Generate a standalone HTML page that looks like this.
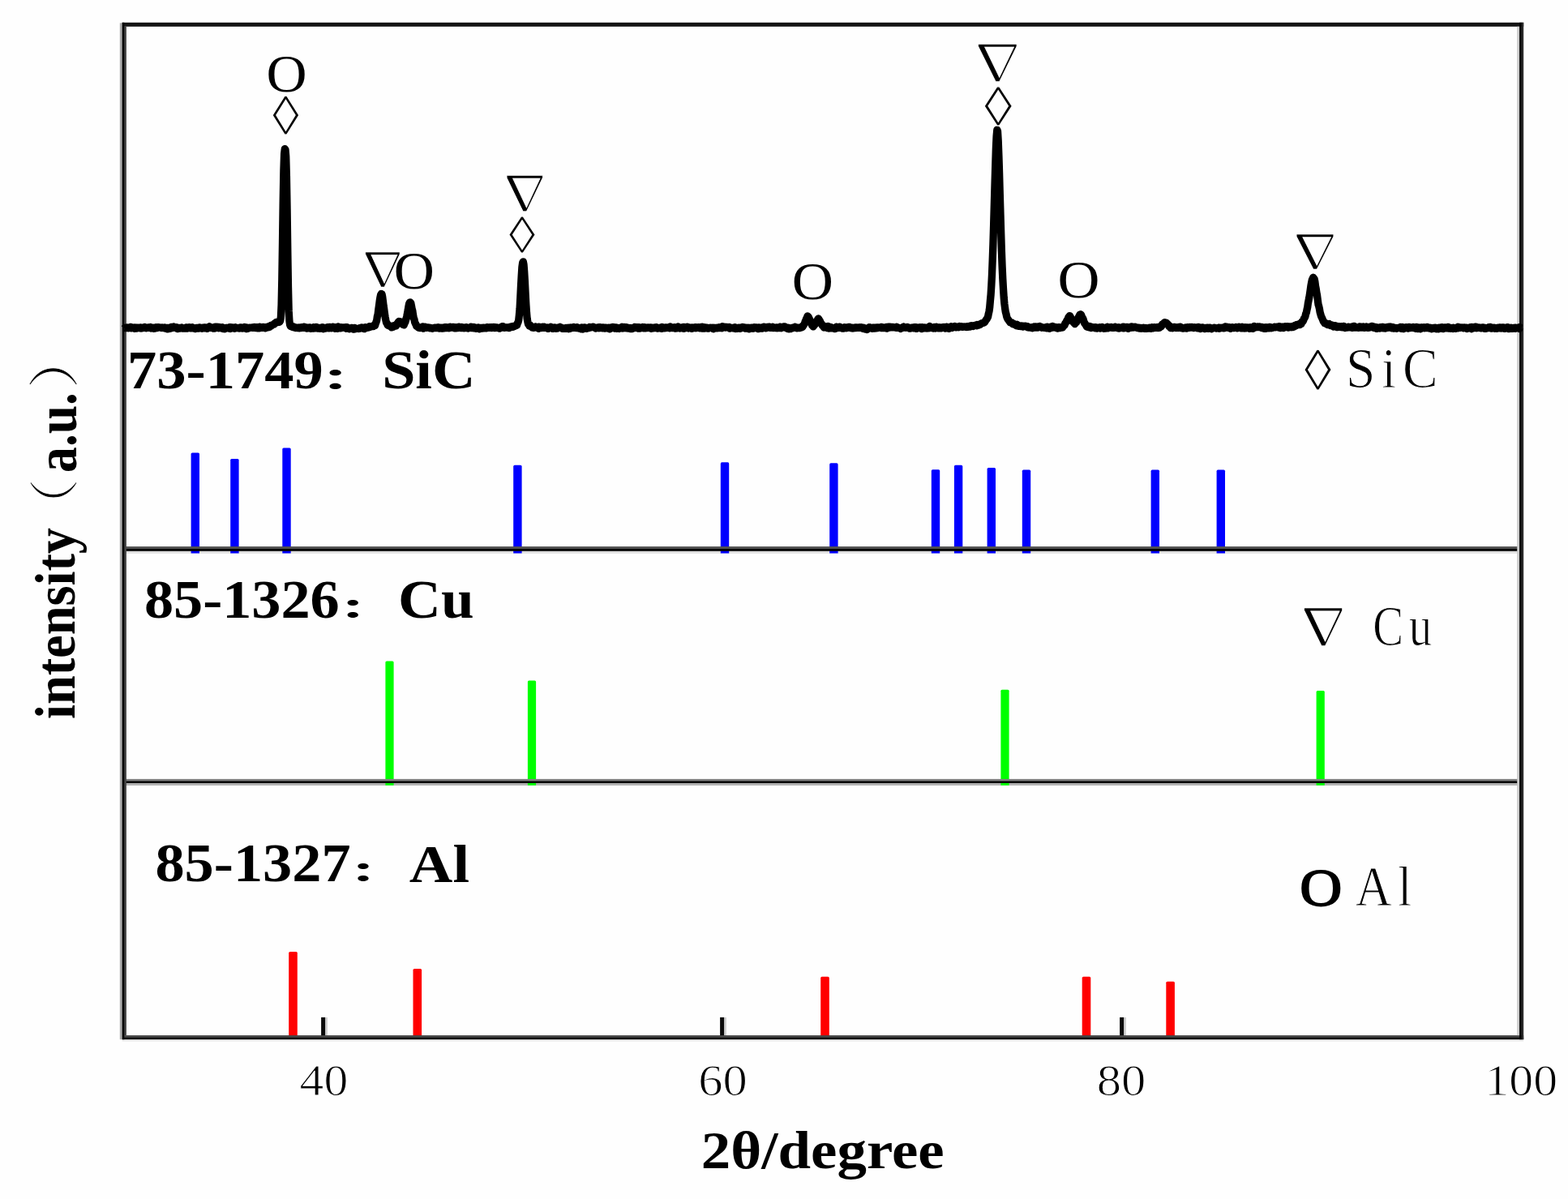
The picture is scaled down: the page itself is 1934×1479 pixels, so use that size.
<!DOCTYPE html>
<html lang="en">
<head>
<meta charset="utf-8">
<title>XRD pattern</title>
<style>
html,body{margin:0;padding:0;background:#fefefe;}
body{width:1934px;height:1479px;overflow:hidden;font-family:"Liberation Serif", "Noto Serif CJK SC", serif;}
svg{display:block;}
text{white-space:pre;}
</style>
</head>
<body>
<svg width="1934" height="1479" viewBox="0 0 1934 1479" font-family='"Liberation Serif", "Noto Serif CJK SC", serif' fill="#000">
<rect width="1934" height="1479" fill="#fefefe"/>
<g id="divider-edges"><rect x="153.3" y="679.3" width="1720.8" height="3.4" fill="#e0e0e0"/><rect x="153.3" y="965.5" width="1720.8" height="3.4" fill="#b0b0b0"/></g>
<!-- reference sticks -->
<g fill="#0000ff"><path d="M235.6 682.5 V560.1 Q235.6 558.5 237.2 558.5 H244.4 Q246 558.5 246 560.1 V682.5 Z"/><path d="M284.2 682.5 V567.6 Q284.2 566 285.8 566 H293 Q294.6 566 294.6 567.6 V682.5 Z"/><path d="M348.3 682.5 V554.1 Q348.3 552.5 349.9 552.5 H357.1 Q358.7 552.5 358.7 554.1 V682.5 Z"/><path d="M633.2 682.5 V575.4 Q633.2 573.8 634.8 573.8 H642 Q643.6 573.8 643.6 575.4 V682.5 Z"/><path d="M888.8 682.5 V571.9 Q888.8 570.3 890.4 570.3 H897.6 Q899.2 570.3 899.2 571.9 V682.5 Z"/><path d="M1023.2 682.5 V572.9 Q1023.2 571.3 1024.8 571.3 H1032 Q1033.6 571.3 1033.6 572.9 V682.5 Z"/><path d="M1148.8 682.5 V580.8 Q1148.8 579.2 1150.4 579.2 H1157.6 Q1159.2 579.2 1159.2 580.8 V682.5 Z"/><path d="M1176.9 682.5 V575.4 Q1176.9 573.8 1178.5 573.8 H1185.7 Q1187.3 573.8 1187.3 575.4 V682.5 Z"/><path d="M1217.6 682.5 V578.5 Q1217.6 576.9 1219.2 576.9 H1226.4 Q1228 576.9 1228 578.5 V682.5 Z"/><path d="M1260.8 682.5 V581.2 Q1260.8 579.6 1262.4 579.6 H1269.6 Q1271.2 579.6 1271.2 581.2 V682.5 Z"/><path d="M1419.6 682.5 V581.2 Q1419.6 579.6 1421.2 579.6 H1428.4 Q1430 579.6 1430 581.2 V682.5 Z"/><path d="M1500.6 682.5 V581.2 Q1500.6 579.6 1502.2 579.6 H1509.4 Q1511 579.6 1511 581.2 V682.5 Z"/></g>
<g fill="#00ff00"><path d="M475.4 968.8 V817.1 Q475.4 815.5 477 815.5 H484 Q485.6 815.5 485.6 817.1 V968.8 Z"/><path d="M650.9 968.8 V841 Q650.9 839.4 652.5 839.4 H659.5 Q661.1 839.4 661.1 841 V968.8 Z"/><path d="M1234.4 968.8 V852.3 Q1234.4 850.7 1236 850.7 H1243 Q1244.6 850.7 1244.6 852.3 V968.8 Z"/><path d="M1623.6 968.8 V853.6 Q1623.6 852 1625.2 852 H1632.2 Q1633.8 852 1633.8 853.6 V968.8 Z"/></g>
<g fill="#ff0000"><path d="M356.2 1279 V1175.6 Q356.2 1174 357.8 1174 H365.2 Q366.8 1174 366.8 1175.6 V1279 Z"/><path d="M509.5 1279 V1196.6 Q509.5 1195 511.1 1195 H518.5 Q520.1 1195 520.1 1196.6 V1279 Z"/><path d="M1012.2 1279 V1206.4 Q1012.2 1204.8 1013.8 1204.8 H1021.2 Q1022.8 1204.8 1022.8 1206.4 V1279 Z"/><path d="M1334.7 1279 V1206.4 Q1334.7 1204.8 1336.3 1204.8 H1343.7 Q1345.3 1204.8 1345.3 1206.4 V1279 Z"/><path d="M1438.3 1279 V1212.3 Q1438.3 1210.7 1439.9 1210.7 H1447.3 Q1448.9 1210.7 1448.9 1212.3 V1279 Z"/></g>
<!-- frame and dividers -->
<g id="frame"><rect x="153.3" y="674.1" width="1720.8" height="3.4" fill="#505050"/><rect x="153.3" y="960.9" width="1720.8" height="3.1" fill="#808080"/><rect x="153.3" y="677" width="1720.8" height="2.8" fill="#000"/><rect x="153.3" y="963.5" width="1720.8" height="2.5" fill="#000"/><rect x="400.6" y="1254.9" width="3.3" height="23.1" fill="#cfcfcf"/><rect x="396.1" y="1254.9" width="5" height="23.1" fill="#0a0a0a"/><rect x="892.6" y="1254.9" width="3.3" height="23.1" fill="#cfcfcf"/><rect x="888.1" y="1254.9" width="5" height="23.1" fill="#0a0a0a"/><rect x="1385.6" y="1254.9" width="3.3" height="23.1" fill="#cfcfcf"/><rect x="1381.1" y="1254.9" width="5" height="23.1" fill="#0a0a0a"/><rect x="150.7" y="1277.1" width="1728.5" height="3.3" fill="#444"/><rect x="150.7" y="1281.7" width="1728.5" height="3.1" fill="#eee"/><rect x="150.7" y="1279.9" width="1728.5" height="2.3" fill="#000"/><rect x="150.7" y="27.8" width="1728.5" height="5" fill="#141414"/><rect x="147.8" y="28.4" width="3.4" height="1253.8" fill="#aaa"/><rect x="152.8" y="32.8" width="3.1" height="1244.3" fill="#444"/><rect x="150.7" y="27.8" width="2.6" height="1254.4" fill="#000"/><rect x="1871.2" y="32.8" width="3.4" height="1244.3" fill="#ccc"/><rect x="1876.2" y="27.8" width="3" height="1254.4" fill="#2a2a2a"/><rect x="1874.1" y="27.8" width="2.6" height="1254.4" fill="#000"/></g>
<!-- XRD pattern -->
<path d="M153.2 405.26 L153.9 404.45 L154.6 404.71 L155.3 404.48 L156 404.29 L156.7 403.88 L157.4 404.15 L158.1 404.87 L158.8 404.69 L159.5 403.87 L160.2 403.68 L160.9 403.55 L161.6 403.36 L162.3 404.89 L163 404.41 L163.7 404.25 L164.4 404.08 L165.1 403.97 L165.8 405.21 L166.5 405.01 L167.2 404.19 L167.9 405.15 L168.6 404.13 L169.3 404.93 L170 404.07 L170.7 404.24 L171.4 404.61 L172.1 404.56 L172.8 404.79 L173.5 403.87 L174.2 405.01 L174.9 404.88 L175.6 404.25 L176.3 404.53 L177 403.88 L177.7 404.16 L178.4 403.57 L179.1 404.2 L179.8 404.26 L180.5 404.8 L181.2 404.5 L181.9 404.45 L182.6 403.92 L183.3 404.04 L184 404.11 L184.7 404.46 L185.4 403.52 L186.1 404.97 L186.8 403.93 L187.5 404.48 L188.2 404.73 L188.9 404.36 L189.6 405.27 L190.3 404.28 L191 404.98 L191.7 404.63 L192.4 403.69 L193.1 404.02 L193.8 404.46 L194.5 403.75 L195.2 404 L195.9 403.62 L196.6 403.94 L197.3 403.8 L198 404.03 L198.7 404.42 L199.4 404.54 L200.1 403.94 L200.8 404.1 L201.5 404.51 L202.2 404.08 L202.9 403.89 L203.6 405.12 L204.3 404.3 L205 405.28 L205.7 404.42 L206.4 405.82 L207.1 404.43 L207.8 405.24 L208.5 405.44 L209.2 404.16 L209.9 405.27 L210.6 404.04 L211.3 403.47 L212 404.52 L212.7 404.49 L213.4 404.09 L214.1 402.98 L214.8 404.22 L215.5 404.2 L216.2 404.25 L216.9 404.46 L217.6 403.79 L218.3 404.39 L219 405.57 L219.7 405.45 L220.4 404.49 L221.1 404.31 L221.8 404.78 L222.5 405.1 L223.2 404.93 L223.9 403.97 L224.6 404.56 L225.3 404.54 L226 405.15 L226.7 404.96 L227.4 404.59 L228.1 404.91 L228.8 404.12 L229.5 405.06 L230.2 404.14 L230.9 404.55 L231.6 404.88 L232.3 404.03 L233 404.19 L233.7 403.78 L234.4 404.76 L235.1 404.67 L235.8 404.57 L236.5 404.95 L237.2 403.72 L237.9 404.72 L238.6 404.78 L239.3 404.64 L240 405.18 L240.7 405.66 L241.4 404.63 L242.1 404.41 L242.8 404.56 L243.5 404.83 L244.2 405.01 L244.9 404.24 L245.6 405.05 L246.3 404.01 L247 404.81 L247.7 404.57 L248.4 404.55 L249.1 405.26 L249.8 404.11 L250.5 404.19 L251.2 404.58 L251.9 404.85 L252.6 403.85 L253.3 404.7 L254 404.3 L254.7 404.98 L255.4 405.3 L256.1 404.53 L256.8 404.32 L257.5 404.34 L258.2 402.71 L258.9 404.41 L259.6 404.25 L260.3 404.13 L261 403.96 L261.7 403.87 L262.4 404.23 L263.1 405 L263.8 404.46 L264.5 405.15 L265.2 403.17 L265.9 404.11 L266.6 404.44 L267.3 404.24 L268 403.37 L268.7 403.76 L269.4 404.72 L270.1 403.53 L270.8 403.74 L271.5 403.73 L272.2 404.08 L272.9 404.78 L273.6 404.88 L274.3 403.68 L275 405.5 L275.7 404.56 L276.4 404.64 L277.1 405.77 L277.8 404.92 L278.5 404.35 L279.2 404.64 L279.9 404.5 L280.6 404.3 L281.3 404.49 L282 404.97 L282.7 404.61 L283.4 403.65 L284.1 405.48 L284.8 403.55 L285.5 404.01 L286.2 404.02 L286.9 404.36 L287.6 403.88 L288.3 404.32 L289 405.27 L289.7 404.45 L290.4 403.94 L291.1 404.63 L291.8 404.16 L292.5 404.42 L293.2 404.73 L293.9 404.8 L294.6 404.47 L295.3 405.02 L296 404.5 L296.7 403.89 L297.4 404.9 L298.1 404.31 L298.8 405.05 L299.5 404.2 L300.2 404.88 L300.9 404.85 L301.6 403.49 L302.3 404.11 L303 404.34 L303.7 405.58 L304.4 403.99 L305.1 405.26 L305.8 405.23 L306.5 404.86 L307.2 404.82 L307.9 404.12 L308.6 404.24 L309.3 404.19 L310 404.17 L310.7 404.3 L311.4 403.86 L312.1 403.74 L312.8 403.89 L313.5 404.45 L314.2 403.64 L314.9 404.04 L315.6 404.56 L316.3 404.61 L317 404.73 L317.7 403.57 L318.4 404.6 L319.1 404.5 L319.8 404.75 L320.5 403.24 L321.2 403.81 L321.9 404.05 L322.6 403.96 L323.3 404.3 L324 404.25 L324.7 403.33 L325.4 404.23 L326.1 403.88 L326.8 403.72 L327.5 404.87 L328.2 403.78 L328.9 403.57 L329.6 403.6 L330.3 403.13 L331 403.72 L331.7 403.11 L332.4 403.29 L333.1 402.52 L333.8 401.7 L334.5 402.19 L335.2 401.04 L335.9 400.75 L336.6 400.49 L337.3 400.15 L338 400.21 L338.7 398.87 L339.4 398.88 L340.1 398.33 L340.8 397.43 L341.5 397.24 L342.2 397.4 L342.9 397.54 L343.6 397.39 L344.3 397.35 L345 396.89 L345.7 395.56 L346.4 391.18 L347.1 375.84 L347.8 344.58 L348.5 298.67 L349.2 248.41 L349.9 210.23 L350.6 189.45 L351.3 183.74 L352 184.71 L352.7 192.65 L353.4 216.84 L354.1 257.73 L354.8 309.48 L355.5 354.27 L356.2 383.91 L356.9 395.5 L357.6 400.74 L358.3 402.32 L359 401.49 L359.7 402.82 L360.4 403.24 L361.1 403.44 L361.8 402.91 L362.5 403.88 L363.2 404.06 L363.9 403.68 L364.6 404.55 L365.3 404.26 L366 404.35 L366.7 404.11 L367.4 404.61 L368.1 404.34 L368.8 404.74 L369.5 404.39 L370.2 403.85 L370.9 404.01 L371.6 404.52 L372.3 403.84 L373 404.22 L373.7 404.38 L374.4 404.14 L375.1 403.11 L375.8 404.32 L376.5 404.45 L377.2 404.56 L377.9 404.17 L378.6 405.1 L379.3 404.41 L380 404.21 L380.7 404.19 L381.4 404.72 L382.1 403.92 L382.8 403.93 L383.5 405.41 L384.2 405.07 L384.9 404.95 L385.6 405.08 L386.3 404.69 L387 403.62 L387.7 404.98 L388.4 404.94 L389.1 404.6 L389.8 403.41 L390.5 404.93 L391.2 404.99 L391.9 404.12 L392.6 404.55 L393.3 404.96 L394 404.55 L394.7 405.17 L395.4 404.74 L396.1 405.02 L396.8 404.67 L397.5 403.76 L398.2 403.84 L398.9 405.75 L399.6 404.23 L400.3 404.67 L401 404.61 L401.7 404.94 L402.4 404.43 L403.1 403.99 L403.8 404.4 L404.5 403.53 L405.2 404.38 L405.9 404.87 L406.6 403.33 L407.3 404.46 L408 404.69 L408.7 404.87 L409.4 403.74 L410.1 403.85 L410.8 403.26 L411.5 403.7 L412.2 404.48 L412.9 405.27 L413.6 403.75 L414.3 404.98 L415 404.53 L415.7 404.07 L416.4 405.31 L417.1 402.95 L417.8 404.05 L418.5 404.04 L419.2 404.83 L419.9 404.61 L420.6 404.78 L421.3 403.72 L422 404.07 L422.7 404.25 L423.4 403.95 L424.1 404.02 L424.8 403.82 L425.5 403.81 L426.2 403.55 L426.9 405.29 L427.6 404.31 L428.3 403.65 L429 404.91 L429.7 404.84 L430.4 404.97 L431.1 405.79 L431.8 404.83 L432.5 404.69 L433.2 404.37 L433.9 404.63 L434.6 404.4 L435.3 404.75 L436 406.21 L436.7 404.94 L437.4 404.38 L438.1 405.83 L438.8 405.39 L439.5 405.44 L440.2 405.38 L440.9 405.39 L441.6 405.25 L442.3 405.56 L443 405.23 L443.7 405.32 L444.4 404.32 L445.1 404.47 L445.8 404.07 L446.5 404.89 L447.2 404.83 L447.9 404.24 L448.6 404.73 L449.3 405.7 L450 404.99 L450.7 403.77 L451.4 404.14 L452.1 404.33 L452.8 403.84 L453.5 403.86 L454.2 404.03 L454.9 403.46 L455.6 402.65 L456.3 403.42 L457 402.96 L457.7 402.97 L458.4 402.65 L459.1 402.28 L459.8 402.3 L460.5 402.55 L461.2 401.88 L461.9 400.5 L462.6 401.55 L463.3 399.06 L464 397.25 L464.7 395.1 L465.4 390.18 L466.1 387.69 L466.8 381.73 L467.5 377.05 L468.2 371.19 L468.9 367.02 L469.6 363.78 L470.3 362.52 L471 362.72 L471.7 366 L472.4 371.28 L473.1 377.33 L473.8 381.8 L474.5 387.37 L475.2 391.56 L475.9 395.22 L476.6 398.11 L477.3 398.74 L478 400.82 L478.7 401.37 L479.4 401.76 L480.1 401.79 L480.8 402.03 L481.5 402.04 L482.2 402.12 L482.9 403.93 L483.6 403.61 L484.3 402.88 L485 403.25 L485.7 402.35 L486.4 401.33 L487.1 401.5 L487.8 402.04 L488.5 402.07 L489.2 400.54 L489.9 399.16 L490.6 398.61 L491.3 397.35 L492 396.52 L492.7 396.73 L493.4 396.66 L494.1 396.86 L494.8 397.45 L495.5 398.12 L496.2 399.4 L496.9 400.45 L497.6 399.89 L498.3 400.89 L499 398.26 L499.7 397.84 L500.4 395.2 L501.1 393.05 L501.8 389.93 L502.5 386.42 L503.2 382.74 L503.9 378.16 L504.6 374.72 L505.3 373.2 L506 372.94 L506.7 373.58 L507.4 376.91 L508.1 380.81 L508.8 383.29 L509.5 388.1 L510.2 392.09 L510.9 393.76 L511.6 397.34 L512.3 399.1 L513 399.97 L513.7 402.3 L514.4 402.56 L515.1 402.82 L515.8 403.76 L516.5 404.19 L517.2 404.47 L517.9 404.51 L518.6 404.54 L519.3 403.75 L520 404.05 L520.7 404.27 L521.4 402.81 L522.1 405.17 L522.8 404 L523.5 403.69 L524.2 403.38 L524.9 404.46 L525.6 404.36 L526.3 404.08 L527 404.18 L527.7 403.93 L528.4 404.04 L529.1 404.4 L529.8 404.18 L530.5 404.88 L531.2 404.53 L531.9 404.74 L532.6 404.9 L533.3 405.28 L534 404.87 L534.7 404.62 L535.4 404.42 L536.1 404.05 L536.8 404.22 L537.5 404.69 L538.2 404.48 L538.9 404.24 L539.6 403.84 L540.3 403.76 L541 404.7 L541.7 405.14 L542.4 404.91 L543.1 404.14 L543.8 404.75 L544.5 404.96 L545.2 404.35 L545.9 404.97 L546.6 404.62 L547.3 404.23 L548 403.88 L548.7 404.72 L549.4 404.41 L550.1 403.79 L550.8 403.64 L551.5 404.45 L552.2 404.25 L552.9 403.8 L553.6 404.77 L554.3 403.82 L555 403.39 L555.7 404.43 L556.4 403.85 L557.1 404.13 L557.8 404 L558.5 403.47 L559.2 403.44 L559.9 404.01 L560.6 404.87 L561.3 403.75 L562 404.95 L562.7 404.45 L563.4 403.83 L564.1 404.51 L564.8 404.61 L565.5 403.83 L566.2 403.2 L566.9 404.43 L567.6 403.73 L568.3 404.54 L569 403.52 L569.7 404.48 L570.4 404.24 L571.1 403.98 L571.8 404.55 L572.5 404.74 L573.2 404.36 L573.9 403.91 L574.6 404.53 L575.3 403.56 L576 404.62 L576.7 404.57 L577.4 405.08 L578.1 404.63 L578.8 404.32 L579.5 404.19 L580.2 403.94 L580.9 403.25 L581.6 404.62 L582.3 404.19 L583 403.87 L583.7 403.58 L584.4 404.92 L585.1 404.57 L585.8 403.8 L586.5 404.7 L587.2 405.27 L587.9 404.3 L588.6 404.42 L589.3 404.03 L590 403.96 L590.7 404.8 L591.4 405.83 L592.1 404.45 L592.8 404.4 L593.5 404.96 L594.2 404.5 L594.9 404.99 L595.6 405.05 L596.3 404.15 L597 404.09 L597.7 404.53 L598.4 404.9 L599.1 404.51 L599.8 404.93 L600.5 403.6 L601.2 404.47 L601.9 403.96 L602.6 404.29 L603.3 404.33 L604 403.77 L604.7 404.13 L605.4 403.66 L606.1 404.3 L606.8 403.62 L607.5 403.76 L608.2 404.12 L608.9 403.64 L609.6 404.49 L610.3 403.68 L611 404.52 L611.7 404.41 L612.4 403.89 L613.1 404.35 L613.8 404.11 L614.5 404.34 L615.2 404.29 L615.9 405.2 L616.6 403.99 L617.3 404.81 L618 404.12 L618.7 403.18 L619.4 402.66 L620.1 404.1 L620.8 402.77 L621.5 404.11 L622.2 404.33 L622.9 404.11 L623.6 403.89 L624.3 403.9 L625 404.19 L625.7 403.98 L626.4 403.9 L627.1 403.94 L627.8 404.63 L628.5 403.69 L629.2 404.09 L629.9 403.26 L630.6 403.31 L631.3 402.79 L632 403.17 L632.7 403.34 L633.4 402.89 L634.1 402.27 L634.8 402.52 L635.5 401.8 L636.2 401.84 L636.9 401.42 L637.6 401.08 L638.3 398.71 L639 397.43 L639.7 394.97 L640.4 388.5 L641.1 380.41 L641.8 366.97 L642.5 352.8 L643.2 340.34 L643.9 329.42 L644.6 324.3 L645.3 322.82 L646 326.17 L646.7 335.37 L647.4 347.25 L648.1 361.56 L648.8 374.71 L649.5 385.46 L650.2 393.21 L650.9 397.02 L651.6 399.81 L652.3 400.69 L653 402.01 L653.7 400.74 L654.4 402.43 L655.1 403.03 L655.8 402.79 L656.5 404.08 L657.2 403.83 L657.9 404.4 L658.6 404.27 L659.3 404.03 L660 403.57 L660.7 403.02 L661.4 403.4 L662.1 403.3 L662.8 403.79 L663.5 403.53 L664.2 405.35 L664.9 403.19 L665.6 404.56 L666.3 403.77 L667 403.88 L667.7 404.41 L668.4 403.99 L669.1 403.45 L669.8 404.28 L670.5 404.07 L671.2 403.22 L671.9 404.4 L672.6 403.84 L673.3 403.98 L674 404.57 L674.7 404.48 L675.4 404.16 L676.1 405.4 L676.8 404.55 L677.5 404.06 L678.2 404.53 L678.9 404.37 L679.6 403.35 L680.3 403.71 L681 403.77 L681.7 405.42 L682.4 404.3 L683.1 404.19 L683.8 404.02 L684.5 404.81 L685.2 404.32 L685.9 405.08 L686.6 404.6 L687.3 405 L688 404.15 L688.7 404.36 L689.4 403.92 L690.1 404.06 L690.8 403.39 L691.5 404.06 L692.2 404.01 L692.9 404.22 L693.6 405.25 L694.3 404.9 L695 405.42 L695.7 405.26 L696.4 405.27 L697.1 405.26 L697.8 404.5 L698.5 405.14 L699.2 404.56 L699.9 404.46 L700.6 405.27 L701.3 405.73 L702 404.21 L702.7 405.42 L703.4 404.94 L704.1 404.06 L704.8 404.53 L705.5 404.52 L706.2 404.44 L706.9 403.98 L707.6 403.49 L708.3 404.06 L709 404.44 L709.7 404.36 L710.4 404.31 L711.1 404.61 L711.8 403.71 L712.5 404.3 L713.2 404.62 L713.9 405.04 L714.6 404.75 L715.3 405.03 L716 404.92 L716.7 405.89 L717.4 403.82 L718.1 404.84 L718.8 406.03 L719.5 404.99 L720.2 403.94 L720.9 404.75 L721.6 403.94 L722.3 404.29 L723 404.69 L723.7 405.32 L724.4 404.57 L725.1 404.55 L725.8 404.68 L726.5 404.19 L727.2 403.56 L727.9 403.84 L728.6 404 L729.3 403.67 L730 403.52 L730.7 403.68 L731.4 403.16 L732.1 403.44 L732.8 403.97 L733.5 403.97 L734.2 404.29 L734.9 405.03 L735.6 404.55 L736.3 404.47 L737 403.97 L737.7 404 L738.4 404.61 L739.1 403.91 L739.8 404.47 L740.5 403.76 L741.2 404.24 L741.9 404.1 L742.6 404.61 L743.3 403.92 L744 403.97 L744.7 404.27 L745.4 404.15 L746.1 405.03 L746.8 404.19 L747.5 404.09 L748.2 404.34 L748.9 404.8 L749.6 404.77 L750.3 405.05 L751 404.04 L751.7 405.88 L752.4 405.6 L753.1 404.65 L753.8 404.05 L754.5 404.62 L755.2 404.71 L755.9 403.43 L756.6 404.48 L757.3 403.71 L758 404.61 L758.7 405.1 L759.4 405.01 L760.1 403.83 L760.8 405.24 L761.5 405.05 L762.2 404.46 L762.9 404.89 L763.6 405.3 L764.3 404.35 L765 404.47 L765.7 404.14 L766.4 404.91 L767.1 403.28 L767.8 404.97 L768.5 403.85 L769.2 404.75 L769.9 403.47 L770.6 403.84 L771.3 404.06 L772 404.76 L772.7 403.64 L773.4 404.72 L774.1 404.2 L774.8 405.19 L775.5 404.5 L776.2 404.88 L776.9 404.6 L777.6 405.6 L778.3 404.61 L779 404.72 L779.7 405.65 L780.4 404.66 L781.1 404.93 L781.8 404.21 L782.5 404.55 L783.2 403.3 L783.9 404.46 L784.6 404.06 L785.3 403.65 L786 403.71 L786.7 404.88 L787.4 404.54 L788.1 403.64 L788.8 405.19 L789.5 403.99 L790.2 404.12 L790.9 404.42 L791.6 403.78 L792.3 403.54 L793 403.92 L793.7 404.89 L794.4 404.82 L795.1 403.61 L795.8 404.93 L796.5 404.4 L797.2 404.67 L797.9 404.43 L798.6 404.53 L799.3 403.84 L800 403.96 L800.7 404.1 L801.4 404.25 L802.1 404.69 L802.8 403.9 L803.5 405.35 L804.2 404.33 L804.9 404.27 L805.6 404.88 L806.3 404.76 L807 404.41 L807.7 403.98 L808.4 403.93 L809.1 403.54 L809.8 404.84 L810.5 404.76 L811.2 405.11 L811.9 404.43 L812.6 404.36 L813.3 404.62 L814 404.76 L814.7 404.21 L815.4 404.56 L816.1 405.42 L816.8 403.55 L817.5 403.7 L818.2 403.9 L818.9 404.71 L819.6 404.88 L820.3 404.11 L821 404.63 L821.7 404.27 L822.4 404.38 L823.1 403.9 L823.8 404.07 L824.5 404.02 L825.2 404.49 L825.9 404.96 L826.6 402.98 L827.3 404.11 L828 403.91 L828.7 404.49 L829.4 404.6 L830.1 404.59 L830.8 404.67 L831.5 403.89 L832.2 403.55 L832.9 405.13 L833.6 404.82 L834.3 403.74 L835 404.77 L835.7 404.44 L836.4 402.98 L837.1 404.68 L837.8 403.87 L838.5 405.02 L839.2 404.23 L839.9 404.26 L840.6 403.91 L841.3 404.47 L842 404.95 L842.7 404.03 L843.4 403.32 L844.1 405.13 L844.8 404.9 L845.5 404.28 L846.2 403.75 L846.9 403.47 L847.6 403.29 L848.3 404.38 L849 404.79 L849.7 403.73 L850.4 404.26 L851.1 404.04 L851.8 404.07 L852.5 404.45 L853.2 405.31 L853.9 403.99 L854.6 404.63 L855.3 404.77 L856 404.17 L856.7 404.22 L857.4 403.64 L858.1 404.74 L858.8 404.01 L859.5 404 L860.2 404.29 L860.9 403.79 L861.6 403.68 L862.3 404.01 L863 404.84 L863.7 403.95 L864.4 404.28 L865.1 403.39 L865.8 403.27 L866.5 405.2 L867.2 404.22 L867.9 403.75 L868.6 404.53 L869.3 404.97 L870 403.91 L870.7 404.34 L871.4 404.82 L872.1 404.23 L872.8 405.11 L873.5 405.18 L874.2 404.85 L874.9 404.28 L875.6 404.36 L876.3 404.09 L877 404.33 L877.7 404.45 L878.4 404.13 L879.1 404.8 L879.8 405.73 L880.5 404.27 L881.2 404.65 L881.9 404.86 L882.6 404.8 L883.3 404.37 L884 404.25 L884.7 404.87 L885.4 404.66 L886.1 404.65 L886.8 403.95 L887.5 404.54 L888.2 404.49 L888.9 403.86 L889.6 404.14 L890.3 404.74 L891 402.67 L891.7 403.86 L892.4 403.05 L893.1 403.05 L893.8 403.67 L894.5 404.12 L895.2 403.96 L895.9 403.43 L896.6 403.31 L897.3 403.73 L898 404.03 L898.7 403.71 L899.4 403.5 L900.1 405.18 L900.8 404.02 L901.5 404.48 L902.2 404.41 L902.9 404.44 L903.6 404.73 L904.3 404.51 L905 404.92 L905.7 404.04 L906.4 403.84 L907.1 405.47 L907.8 404.53 L908.5 405.01 L909.2 405.37 L909.9 405.14 L910.6 404.89 L911.3 404.15 L912 404.15 L912.7 405.37 L913.4 405.13 L914.1 404.91 L914.8 403.73 L915.5 403.45 L916.2 403.93 L916.9 403.77 L917.6 404.34 L918.3 403.78 L919 405.12 L919.7 404.14 L920.4 404.26 L921.1 405 L921.8 404.88 L922.5 404.44 L923.2 405.35 L923.9 405.91 L924.6 404.38 L925.3 404.86 L926 404.49 L926.7 404.05 L927.4 405.22 L928.1 405.17 L928.8 405.24 L929.5 404.89 L930.2 403.61 L930.9 404.48 L931.6 404.1 L932.3 403.87 L933 403.95 L933.7 404.87 L934.4 404.44 L935.1 405.63 L935.8 404.98 L936.5 403.81 L937.2 405.11 L937.9 405.18 L938.6 404.56 L939.3 403.84 L940 405.17 L940.7 403.57 L941.4 404.14 L942.1 403.27 L942.8 403.64 L943.5 403.4 L944.2 404.76 L944.9 404.78 L945.6 403.96 L946.3 403.45 L947 403.99 L947.7 404.08 L948.4 403.11 L949.1 403.29 L949.8 403.85 L950.5 404.33 L951.2 404.11 L951.9 404.4 L952.6 403.71 L953.3 403.23 L954 404.65 L954.7 404.01 L955.4 404.35 L956.1 404.15 L956.8 404.51 L957.5 403.81 L958.2 404.77 L958.9 404.03 L959.6 404.32 L960.3 404.39 L961 404.62 L961.7 404.27 L962.4 403.16 L963.1 403.66 L963.8 404.73 L964.5 403.86 L965.2 403.72 L965.9 403.55 L966.6 402.98 L967.3 402.99 L968 403.02 L968.7 404.02 L969.4 403.85 L970.1 404.81 L970.8 404.4 L971.5 405.29 L972.2 404.81 L972.9 404.25 L973.6 405.85 L974.3 405.22 L975 405.63 L975.7 405.15 L976.4 404.85 L977.1 404.95 L977.8 404.11 L978.5 403.88 L979.2 403.87 L979.9 403.92 L980.6 403.35 L981.3 403.86 L982 404.05 L982.7 404.91 L983.4 404.92 L984.1 404.06 L984.8 404.62 L985.5 404.19 L986.2 404.53 L986.9 404.28 L987.6 404.03 L988.3 404.16 L989 403.14 L989.7 403.56 L990.4 402.48 L991.1 401.09 L991.8 400.14 L992.5 398.92 L993.2 396.45 L993.9 395 L994.6 393.2 L995.3 392.15 L996 389.92 L996.7 390.28 L997.4 391.3 L998.1 393.13 L998.8 394.28 L999.5 396.43 L1000.2 397.16 L1000.9 399.18 L1001.6 401.51 L1002.3 401.32 L1003 402.91 L1003.7 401.46 L1004.4 401.22 L1005.1 399.77 L1005.8 399.7 L1006.5 398.13 L1007.2 397.55 L1007.9 395.29 L1008.6 394.08 L1009.3 393 L1010 393.73 L1010.7 394.97 L1011.4 396.03 L1012.1 397.69 L1012.8 398.96 L1013.5 399.86 L1014.2 401.38 L1014.9 402.06 L1015.6 401.99 L1016.3 403.97 L1017 403.59 L1017.7 403.06 L1018.4 403.85 L1019.1 403.84 L1019.8 404.3 L1020.5 404.59 L1021.2 402.43 L1021.9 404.37 L1022.6 405.01 L1023.3 403.94 L1024 403.6 L1024.7 404.73 L1025.4 404.81 L1026.1 404.89 L1026.8 404.14 L1027.5 404.45 L1028.2 404.75 L1028.9 404.99 L1029.6 405.68 L1030.3 404.7 L1031 404.15 L1031.7 403.17 L1032.4 404.73 L1033.1 404.02 L1033.8 403.99 L1034.5 403.51 L1035.2 404.37 L1035.9 403.19 L1036.6 404.24 L1037.3 404.34 L1038 404.49 L1038.7 405.03 L1039.4 404.38 L1040.1 404.52 L1040.8 404.86 L1041.5 403.6 L1042.2 404.19 L1042.9 404.36 L1043.6 404.72 L1044.3 403.79 L1045 404.49 L1045.7 404.32 L1046.4 403.43 L1047.1 403.44 L1047.8 403.5 L1048.5 404.39 L1049.2 404.5 L1049.9 404.8 L1050.6 404.8 L1051.3 404.12 L1052 404.99 L1052.7 404.87 L1053.4 404.66 L1054.1 404.65 L1054.8 403.83 L1055.5 404.66 L1056.2 403.94 L1056.9 403.79 L1057.6 404.17 L1058.3 404.4 L1059 404.25 L1059.7 404.05 L1060.4 403.74 L1061.1 404.37 L1061.8 403.97 L1062.5 403.68 L1063.2 404.49 L1063.9 405.29 L1064.6 404.51 L1065.3 404.31 L1066 405.67 L1066.7 405.92 L1067.4 405.01 L1068.1 405.06 L1068.8 405.21 L1069.5 406.51 L1070.2 405.02 L1070.9 405.32 L1071.6 404.94 L1072.3 403.72 L1073 404.03 L1073.7 403.96 L1074.4 404.73 L1075.1 404.48 L1075.8 405.24 L1076.5 404.12 L1077.2 404.32 L1077.9 404.17 L1078.6 404.11 L1079.3 405.17 L1080 404.2 L1080.7 404.87 L1081.4 404.85 L1082.1 403.93 L1082.8 404.52 L1083.5 404.01 L1084.2 404.22 L1084.9 404.12 L1085.6 403.94 L1086.3 403.59 L1087 404.56 L1087.7 403.64 L1088.4 404.05 L1089.1 404.48 L1089.8 403.99 L1090.5 404.23 L1091.2 404.51 L1091.9 404.41 L1092.6 404.82 L1093.3 403.34 L1094 405.15 L1094.7 404.27 L1095.4 403.4 L1096.1 403.91 L1096.8 403.47 L1097.5 404.04 L1098.2 403.22 L1098.9 403.34 L1099.6 403.89 L1100.3 403.81 L1101 403.33 L1101.7 403.63 L1102.4 403.69 L1103.1 403.79 L1103.8 403.86 L1104.5 403.83 L1105.2 404.4 L1105.9 403.22 L1106.6 403.88 L1107.3 404.38 L1108 404.3 L1108.7 404.33 L1109.4 404.47 L1110.1 404.85 L1110.8 405.34 L1111.5 404.53 L1112.2 404.37 L1112.9 404.5 L1113.6 403.97 L1114.3 402.99 L1115 403.99 L1115.7 403.7 L1116.4 403.63 L1117.1 404.24 L1117.8 404.07 L1118.5 404.03 L1119.2 403.4 L1119.9 403.78 L1120.6 404.71 L1121.3 404.78 L1122 405.19 L1122.7 405.1 L1123.4 404.62 L1124.1 404.15 L1124.8 404.14 L1125.5 404.57 L1126.2 403.96 L1126.9 404.82 L1127.6 403.75 L1128.3 403.57 L1129 404.39 L1129.7 403.69 L1130.4 405.44 L1131.1 404.2 L1131.8 404.71 L1132.5 404.64 L1133.2 404.38 L1133.9 403.91 L1134.6 403.76 L1135.3 405.06 L1136 405.06 L1136.7 405.6 L1137.4 403.71 L1138.1 404.63 L1138.8 404.33 L1139.5 404.81 L1140.2 404.13 L1140.9 404.75 L1141.6 404.75 L1142.3 404.57 L1143 404.94 L1143.7 403.99 L1144.4 404.77 L1145.1 403.6 L1145.8 404.72 L1146.5 402.53 L1147.2 403.9 L1147.9 403.5 L1148.6 403.99 L1149.3 404.53 L1150 404.42 L1150.7 404.19 L1151.4 405.03 L1152.1 403.52 L1152.8 403.91 L1153.5 405.05 L1154.2 404.45 L1154.9 403.2 L1155.6 404.37 L1156.3 403.56 L1157 404.84 L1157.7 404.68 L1158.4 403.89 L1159.1 404.86 L1159.8 403.9 L1160.5 404.86 L1161.2 404.79 L1161.9 404.49 L1162.6 403.89 L1163.3 404.46 L1164 403.48 L1164.7 404.29 L1165.4 403.57 L1166.1 405.03 L1166.8 403.91 L1167.5 403.09 L1168.2 404.54 L1168.9 404.37 L1169.6 403.95 L1170.3 405.27 L1171 404.61 L1171.7 404.3 L1172.4 403.94 L1173.1 402.77 L1173.8 404.42 L1174.5 404.49 L1175.2 403.6 L1175.9 403 L1176.6 403.44 L1177.3 402.49 L1178 403.2 L1178.7 403.5 L1179.4 403.86 L1180.1 403.19 L1180.8 403.2 L1181.5 403.53 L1182.2 403.82 L1182.9 402.98 L1183.6 402.53 L1184.3 402.79 L1185 402.56 L1185.7 402.74 L1186.4 403.12 L1187.1 403.38 L1187.8 403.21 L1188.5 403.09 L1189.2 402.8 L1189.9 403.15 L1190.6 403.29 L1191.3 403.18 L1192 403.48 L1192.7 402.58 L1193.4 402.58 L1194.1 403.46 L1194.8 402.62 L1195.5 402.68 L1196.2 402.21 L1196.9 402.77 L1197.6 402.05 L1198.3 401.73 L1199 402.17 L1199.7 401.89 L1200.4 402.37 L1201.1 401.7 L1201.8 401.88 L1202.5 401.55 L1203.2 401.63 L1203.9 400.98 L1204.6 401.77 L1205.3 400.44 L1206 400.74 L1206.7 400.4 L1207.4 400.9 L1208.1 400.41 L1208.8 400.39 L1209.5 399.67 L1210.2 399.17 L1210.9 398.74 L1211.6 398.76 L1212.3 398.29 L1213 398.26 L1213.7 397.84 L1214.4 397.65 L1215.1 396.45 L1215.8 395.27 L1216.5 394.17 L1217.2 393.46 L1217.9 392 L1218.6 390.69 L1219.3 386.96 L1220 384 L1220.7 379.1 L1221.4 370.99 L1222.1 363.52 L1222.8 352.37 L1223.5 338.5 L1224.2 320.89 L1224.9 301.42 L1225.6 278.05 L1226.3 253.66 L1227 228.28 L1227.7 204.77 L1228.4 182.66 L1229.1 167.83 L1229.8 160.08 L1230.5 161.73 L1231.2 173.27 L1231.9 191.71 L1232.6 213.92 L1233.3 239.63 L1234 264.19 L1234.7 287.96 L1235.4 310.08 L1236.1 328.56 L1236.8 343.89 L1237.5 356.22 L1238.2 367.01 L1238.9 374.77 L1239.6 380.23 L1240.3 384.87 L1241 387.23 L1241.7 390.58 L1242.4 392.46 L1243.1 393.8 L1243.8 394.49 L1244.5 395.74 L1245.2 396.54 L1245.9 397.61 L1246.6 397.71 L1247.3 398.1 L1248 398.02 L1248.7 399.21 L1249.4 399.74 L1250.1 399.23 L1250.8 400.12 L1251.5 400.26 L1252.2 400.41 L1252.9 400.07 L1253.6 401.81 L1254.3 400.21 L1255 401.48 L1255.7 401.31 L1256.4 402.31 L1257.1 401.69 L1257.8 402.07 L1258.5 402.5 L1259.2 402.5 L1259.9 402.06 L1260.6 402.75 L1261.3 402.6 L1262 402.93 L1262.7 402.18 L1263.4 402.41 L1264.1 402.3 L1264.8 402.2 L1265.5 402.79 L1266.2 402.97 L1266.9 403.58 L1267.6 402.86 L1268.3 403.43 L1269 404.02 L1269.7 403.6 L1270.4 403.92 L1271.1 404.12 L1271.8 403.85 L1272.5 403.76 L1273.2 404.79 L1273.9 404.19 L1274.6 403.94 L1275.3 403.23 L1276 403.8 L1276.7 404.19 L1277.4 402.95 L1278.1 403.03 L1278.8 404.02 L1279.5 404.1 L1280.2 404.02 L1280.9 402.86 L1281.6 403.39 L1282.3 402.72 L1283 403.36 L1283.7 402.96 L1284.4 403.39 L1285.1 404.22 L1285.8 403.94 L1286.5 403.83 L1287.2 404.04 L1287.9 404.23 L1288.6 403.93 L1289.3 404.33 L1290 404.5 L1290.7 404.96 L1291.4 403.14 L1292.1 403.65 L1292.8 403.62 L1293.5 404.62 L1294.2 405.33 L1294.9 404.19 L1295.6 404.12 L1296.3 404.63 L1297 402.8 L1297.7 403.94 L1298.4 402.46 L1299.1 404.09 L1299.8 403.72 L1300.5 403.72 L1301.2 404.05 L1301.9 403.54 L1302.6 404.39 L1303.3 403.92 L1304 404.16 L1304.7 405.21 L1305.4 403.68 L1306.1 404.4 L1306.8 403.59 L1307.5 404.55 L1308.2 404.23 L1308.9 403.66 L1309.6 403.94 L1310.3 404.06 L1311 403.58 L1311.7 402.34 L1312.4 401.6 L1313.1 401.29 L1313.8 398.9 L1314.5 398.02 L1315.2 397.02 L1315.9 395.46 L1316.6 394.45 L1317.3 392.95 L1318 391.14 L1318.7 390.51 L1319.4 389.55 L1320.1 390.63 L1320.8 391.87 L1321.5 393.04 L1322.2 394.68 L1322.9 396.39 L1323.6 396.99 L1324.3 398.16 L1325 398.16 L1325.7 399.7 L1326.4 398.31 L1327.1 397.28 L1327.8 397.36 L1328.5 395.28 L1329.2 394.12 L1329.9 391.68 L1330.6 391.31 L1331.3 389.24 L1332 388.02 L1332.7 387.77 L1333.4 388.12 L1334.1 389.75 L1334.8 391.88 L1335.5 392.48 L1336.2 394.06 L1336.9 396.77 L1337.6 398.74 L1338.3 398.99 L1339 400.64 L1339.7 401.49 L1340.4 402.94 L1341.1 403.36 L1341.8 403.09 L1342.5 403.03 L1343.2 403.9 L1343.9 402.49 L1344.6 403.76 L1345.3 403.41 L1346 404.52 L1346.7 404.12 L1347.4 403.44 L1348.1 403.78 L1348.8 403.93 L1349.5 403.85 L1350.2 404.34 L1350.9 404.81 L1351.6 403.61 L1352.3 404.28 L1353 405.12 L1353.7 404.8 L1354.4 404.06 L1355.1 404.08 L1355.8 404.07 L1356.5 403.69 L1357.2 405.01 L1357.9 404.42 L1358.6 403.99 L1359.3 403.59 L1360 404.12 L1360.7 404.08 L1361.4 405.23 L1362.1 404.21 L1362.8 404.57 L1363.5 405 L1364.2 404.77 L1364.9 404.26 L1365.6 403.23 L1366.3 404.91 L1367 404.45 L1367.7 403.87 L1368.4 404.07 L1369.1 403.64 L1369.8 403.71 L1370.5 403.4 L1371.2 404.4 L1371.9 404.41 L1372.6 404.19 L1373.3 404.42 L1374 404.24 L1374.7 403.95 L1375.4 403.38 L1376.1 404.03 L1376.8 404.33 L1377.5 404.19 L1378.2 404.61 L1378.9 403.9 L1379.6 403.78 L1380.3 404.99 L1381 404.18 L1381.7 404.57 L1382.4 404.22 L1383.1 404.2 L1383.8 403.94 L1384.5 403.75 L1385.2 403.14 L1385.9 404.96 L1386.6 404.21 L1387.3 403.33 L1388 404.02 L1388.7 403.99 L1389.4 404.24 L1390.1 403.37 L1390.8 404.91 L1391.5 405.39 L1392.2 404.34 L1392.9 404.58 L1393.6 404.39 L1394.3 403.35 L1395 404.43 L1395.7 402.83 L1396.4 403.25 L1397.1 403.3 L1397.8 404.15 L1398.5 403.57 L1399.2 403.45 L1399.9 403.11 L1400.6 403.65 L1401.3 403.72 L1402 404.14 L1402.7 404.56 L1403.4 404.37 L1404.1 404.14 L1404.8 404.16 L1405.5 405.08 L1406.2 404.41 L1406.9 404.32 L1407.6 405.24 L1408.3 405.15 L1409 404.68 L1409.7 404.43 L1410.4 404.29 L1411.1 405.22 L1411.8 404.61 L1412.5 405.35 L1413.2 404.57 L1413.9 405.1 L1414.6 405.26 L1415.3 405.07 L1416 405.08 L1416.7 405.09 L1417.4 404.31 L1418.1 404.19 L1418.8 404.48 L1419.5 405.26 L1420.2 404.21 L1420.9 403.73 L1421.6 403.77 L1422.3 403.98 L1423 404.53 L1423.7 403.73 L1424.4 404.36 L1425.1 404.24 L1425.8 404.02 L1426.5 403.79 L1427.2 404.28 L1427.9 403.99 L1428.6 404.49 L1429.3 403.2 L1430 404.3 L1430.7 403.73 L1431.4 403.16 L1432.1 402.99 L1432.8 401.92 L1433.5 400.11 L1434.2 400.21 L1434.9 399.74 L1435.6 398.55 L1436.3 397.85 L1437 398.36 L1437.7 398.38 L1438.4 398.13 L1439.1 398.73 L1439.8 399.29 L1440.5 400.07 L1441.2 401.15 L1441.9 402.51 L1442.6 401.91 L1443.3 403.22 L1444 404.64 L1444.7 404.25 L1445.4 404.31 L1446.1 404.7 L1446.8 403.8 L1447.5 403.65 L1448.2 403.33 L1448.9 403.37 L1449.6 404.22 L1450.3 404.5 L1451 403.89 L1451.7 403.78 L1452.4 404.38 L1453.1 404.54 L1453.8 404.41 L1454.5 403.36 L1455.2 404.08 L1455.9 403.18 L1456.6 404.56 L1457.3 404.01 L1458 404.11 L1458.7 405.18 L1459.4 405.12 L1460.1 404.68 L1460.8 404.48 L1461.5 404.38 L1462.2 403.97 L1462.9 404.14 L1463.6 405.01 L1464.3 403.56 L1465 403.63 L1465.7 404.04 L1466.4 404.36 L1467.1 404.32 L1467.8 403.48 L1468.5 403.9 L1469.2 403.88 L1469.9 403.42 L1470.6 404.08 L1471.3 403.81 L1472 404.51 L1472.7 404.27 L1473.4 403.72 L1474.1 404.13 L1474.8 403.95 L1475.5 403.8 L1476.2 403.94 L1476.9 404.79 L1477.6 404.15 L1478.3 403.57 L1479 404.08 L1479.7 404.89 L1480.4 405.65 L1481.1 404.13 L1481.8 404.42 L1482.5 404.4 L1483.2 403.88 L1483.9 404.8 L1484.6 404.61 L1485.3 404.7 L1486 405.59 L1486.7 404.42 L1487.4 404.93 L1488.1 404.93 L1488.8 404.17 L1489.5 404.14 L1490.2 405.27 L1490.9 404.96 L1491.6 404.67 L1492.3 404.12 L1493 405.11 L1493.7 404.9 L1494.4 405.68 L1495.1 405.21 L1495.8 404.77 L1496.5 404.49 L1497.2 404.34 L1497.9 404.06 L1498.6 404.55 L1499.3 404.58 L1500 404.86 L1500.7 405.13 L1501.4 404.79 L1502.1 404.42 L1502.8 405.01 L1503.5 405.29 L1504.2 404.04 L1504.9 404.57 L1505.6 404.6 L1506.3 404.49 L1507 404.37 L1507.7 404.07 L1508.4 404.06 L1509.1 404.93 L1509.8 404.96 L1510.5 403.4 L1511.2 402.88 L1511.9 404.35 L1512.6 403.77 L1513.3 403.82 L1514 403.28 L1514.7 404.23 L1515.4 404.03 L1516.1 403.78 L1516.8 404.48 L1517.5 405.26 L1518.2 404.83 L1518.9 404.71 L1519.6 403.92 L1520.3 404.42 L1521 404.04 L1521.7 404.56 L1522.4 404.28 L1523.1 403.98 L1523.8 404.24 L1524.5 403.62 L1525.2 404.34 L1525.9 404.76 L1526.6 403.9 L1527.3 404.3 L1528 403.22 L1528.7 404.45 L1529.4 404.39 L1530.1 403.53 L1530.8 404.89 L1531.5 404.11 L1532.2 403.31 L1532.9 403.56 L1533.6 404.78 L1534.3 404.31 L1535 404.99 L1535.7 403.64 L1536.4 404.31 L1537.1 404.75 L1537.8 403.86 L1538.5 404.42 L1539.2 403.9 L1539.9 404.25 L1540.6 404.32 L1541.3 405.34 L1542 403.75 L1542.7 404.79 L1543.4 405.09 L1544.1 403.86 L1544.8 404.4 L1545.5 405.36 L1546.2 404.63 L1546.9 402.52 L1547.6 403.73 L1548.3 402.88 L1549 403.76 L1549.7 403.16 L1550.4 403.17 L1551.1 402.96 L1551.8 403.5 L1552.5 403.17 L1553.2 403.01 L1553.9 403.44 L1554.6 403.88 L1555.3 403.45 L1556 404.6 L1556.7 403.41 L1557.4 404.52 L1558.1 404.28 L1558.8 405.29 L1559.5 404.23 L1560.2 404.18 L1560.9 403.76 L1561.6 405.32 L1562.3 404.61 L1563 403.69 L1563.7 404.01 L1564.4 403.72 L1565.1 404.96 L1565.8 404.47 L1566.5 403.31 L1567.2 404.36 L1567.9 404.68 L1568.6 404.18 L1569.3 404.34 L1570 403.94 L1570.7 403.97 L1571.4 403.86 L1572.1 403.36 L1572.8 403.84 L1573.5 403.73 L1574.2 403.57 L1574.9 403.28 L1575.6 403.13 L1576.3 403.77 L1577 404.11 L1577.7 402.59 L1578.4 403.55 L1579.1 404.52 L1579.8 404.27 L1580.5 403.47 L1581.2 404.4 L1581.9 403.2 L1582.6 403.2 L1583.3 404.47 L1584 403.28 L1584.7 403.43 L1585.4 402.78 L1586.1 403.17 L1586.8 403.08 L1587.5 403.6 L1588.2 402.71 L1588.9 404.03 L1589.6 403.23 L1590.3 402.96 L1591 402.85 L1591.7 403.43 L1592.4 403.71 L1593.1 402.76 L1593.8 403.7 L1594.5 403.65 L1595.2 403.43 L1595.9 402.72 L1596.6 401.69 L1597.3 402.53 L1598 401.71 L1598.7 401.72 L1599.4 400.37 L1600.1 400.83 L1600.8 400.84 L1601.5 399.94 L1602.2 400.23 L1602.9 400.57 L1603.6 399.53 L1604.3 398.7 L1605 399.75 L1605.7 396.91 L1606.4 396.78 L1607.1 396.49 L1607.8 394.85 L1608.5 392.6 L1609.2 392.16 L1609.9 390.38 L1610.6 387.23 L1611.3 385.66 L1612 382.12 L1612.7 379.03 L1613.4 373.92 L1614.1 370.49 L1614.8 366.89 L1615.5 362.56 L1616.2 357.64 L1616.9 352.67 L1617.6 348.85 L1618.3 345.27 L1619 343.99 L1619.7 342.28 L1620.4 343.18 L1621.1 343.97 L1621.8 347.19 L1622.5 352.59 L1623.2 356.16 L1623.9 360.92 L1624.6 364.48 L1625.3 370.12 L1626 375.47 L1626.7 377.67 L1627.4 380.79 L1628.1 384.99 L1628.8 387.5 L1629.5 389.94 L1630.2 391.4 L1630.9 392.98 L1631.6 394.44 L1632.3 396.5 L1633 397.13 L1633.7 398.41 L1634.4 398.1 L1635.1 399.38 L1635.8 399.25 L1636.5 399.81 L1637.2 400.5 L1637.9 400.2 L1638.6 400.1 L1639.3 399.69 L1640 400.76 L1640.7 401.41 L1641.4 400.96 L1642.1 401.46 L1642.8 400.92 L1643.5 401.43 L1644.2 402.45 L1644.9 403.09 L1645.6 402.37 L1646.3 401.76 L1647 402.5 L1647.7 401.97 L1648.4 402.57 L1649.1 403.69 L1649.8 402.89 L1650.5 402.78 L1651.2 403.46 L1651.9 402.78 L1652.6 403.18 L1653.3 403.24 L1654 403.48 L1654.7 402.63 L1655.4 403.73 L1656.1 403.91 L1656.8 402.51 L1657.5 402.41 L1658.2 403.38 L1658.9 404.5 L1659.6 403.77 L1660.3 404.1 L1661 404.01 L1661.7 404.1 L1662.4 403.31 L1663.1 403.24 L1663.8 403.78 L1664.5 403.93 L1665.2 403.95 L1665.9 403.83 L1666.6 403.38 L1667.3 404.19 L1668 403.94 L1668.7 404.22 L1669.4 402.4 L1670.1 404.13 L1670.8 402.46 L1671.5 403.92 L1672.2 403.53 L1672.9 403.96 L1673.6 403.74 L1674.3 403.94 L1675 404.25 L1675.7 404.38 L1676.4 403.74 L1677.1 402.83 L1677.8 403.62 L1678.5 404.2 L1679.2 403.4 L1679.9 403.92 L1680.6 403.41 L1681.3 403.09 L1682 404.11 L1682.7 404.35 L1683.4 403.43 L1684.1 403.52 L1684.8 404.11 L1685.5 403.1 L1686.2 403.4 L1686.9 404.45 L1687.6 404.34 L1688.3 403.66 L1689 403.49 L1689.7 403.98 L1690.4 403.01 L1691.1 403.41 L1691.8 403.5 L1692.5 402.41 L1693.2 403.98 L1693.9 404.13 L1694.6 404.39 L1695.3 403.29 L1696 403.48 L1696.7 403.82 L1697.4 403.68 L1698.1 405.41 L1698.8 403.99 L1699.5 404.35 L1700.2 404.53 L1700.9 404.58 L1701.6 404.98 L1702.3 403.66 L1703 404.57 L1703.7 404.08 L1704.4 403.35 L1705.1 404.02 L1705.8 403.28 L1706.5 404.9 L1707.2 403.81 L1707.9 404.75 L1708.6 404.95 L1709.3 403.97 L1710 403.75 L1710.7 404.18 L1711.4 403.41 L1712.1 404.2 L1712.8 403.7 L1713.5 403.17 L1714.2 403.23 L1714.9 404.07 L1715.6 403.07 L1716.3 404.76 L1717 403.62 L1717.7 404.01 L1718.4 403.72 L1719.1 405.07 L1719.8 404.64 L1720.5 404.92 L1721.2 404.63 L1721.9 404.39 L1722.6 405.18 L1723.3 404.66 L1724 404.5 L1724.7 404.53 L1725.4 404.57 L1726.1 404.34 L1726.8 404.13 L1727.5 403.49 L1728.2 405.38 L1728.9 403.82 L1729.6 403.52 L1730.3 404.31 L1731 405.62 L1731.7 405.27 L1732.4 404.33 L1733.1 404.74 L1733.8 404.55 L1734.5 403.54 L1735.2 404.36 L1735.9 404.7 L1736.6 405.15 L1737.3 403.97 L1738 403.4 L1738.7 403.68 L1739.4 404.53 L1740.1 404.33 L1740.8 404.26 L1741.5 404.24 L1742.2 403.98 L1742.9 403.53 L1743.6 404.52 L1744.3 404.61 L1745 404.78 L1745.7 405.25 L1746.4 404.03 L1747.1 403.48 L1747.8 403.68 L1748.5 405.57 L1749.2 403.94 L1749.9 404.55 L1750.6 404.25 L1751.3 404.56 L1752 405.78 L1752.7 403.91 L1753.4 404.06 L1754.1 403.84 L1754.8 404.22 L1755.5 404.38 L1756.2 403.64 L1756.9 404.78 L1757.6 404.72 L1758.3 404.41 L1759 404.17 L1759.7 404.17 L1760.4 403.46 L1761.1 404.68 L1761.8 403.89 L1762.5 404.2 L1763.2 405.04 L1763.9 404.19 L1764.6 404.47 L1765.3 405.26 L1766 405.76 L1766.7 404.55 L1767.4 405.42 L1768.1 404.49 L1768.8 404.94 L1769.5 404.98 L1770.2 404.13 L1770.9 405.24 L1771.6 405.66 L1772.3 404.83 L1773 405.01 L1773.7 404.3 L1774.4 405.75 L1775.1 404.89 L1775.8 404.21 L1776.5 405.17 L1777.2 404.03 L1777.9 404.32 L1778.6 403.55 L1779.3 405.28 L1780 405.63 L1780.7 404.09 L1781.4 404 L1782.1 403.93 L1782.8 403.89 L1783.5 404.42 L1784.2 404.85 L1784.9 403.65 L1785.6 404.46 L1786.3 403.37 L1787 405.1 L1787.7 404.37 L1788.4 404.13 L1789.1 405.28 L1789.8 404.42 L1790.5 405.12 L1791.2 405.04 L1791.9 405.37 L1792.6 404.16 L1793.3 404.57 L1794 404.74 L1794.7 404.48 L1795.4 405.33 L1796.1 404.12 L1796.8 404.85 L1797.5 404.93 L1798.2 403.2 L1798.9 403.61 L1799.6 403.61 L1800.3 403.75 L1801 404.23 L1801.7 404.03 L1802.4 404.22 L1803.1 403.98 L1803.8 404.23 L1804.5 404.52 L1805.2 404.74 L1805.9 404.07 L1806.6 404.48 L1807.3 404.25 L1808 404.68 L1808.7 404.15 L1809.4 405.45 L1810.1 405.3 L1810.8 404.86 L1811.5 404.47 L1812.2 404.41 L1812.9 404.11 L1813.6 403.53 L1814.3 404.99 L1815 405.79 L1815.7 403.5 L1816.4 403.6 L1817.1 404.54 L1817.8 404.59 L1818.5 403.48 L1819.2 403.31 L1819.9 404.49 L1820.6 403.17 L1821.3 404.81 L1822 403.86 L1822.7 404.2 L1823.4 404.25 L1824.1 404 L1824.8 404.23 L1825.5 404.17 L1826.2 404.94 L1826.9 404.23 L1827.6 404.24 L1828.3 403.95 L1829 403.89 L1829.7 403.85 L1830.4 404.31 L1831.1 405.32 L1831.8 405.01 L1832.5 404.57 L1833.2 405.29 L1833.9 405 L1834.6 404.62 L1835.3 404.36 L1836 403.81 L1836.7 404.45 L1837.4 404.14 L1838.1 403.47 L1838.8 403.57 L1839.5 405.14 L1840.2 404.3 L1840.9 404.5 L1841.6 404.39 L1842.3 404.17 L1843 404.72 L1843.7 405.13 L1844.4 404.51 L1845.1 404.97 L1845.8 405.23 L1846.5 404.47 L1847.2 404.72 L1847.9 404.21 L1848.6 404.78 L1849.3 404.21 L1850 404.91 L1850.7 403.92 L1851.4 405.06 L1852.1 404.05 L1852.8 403.79 L1853.5 403.8 L1854.2 404.67 L1854.9 404 L1855.6 405.4 L1856.3 405.26 L1857 404.94 L1857.7 404.02 L1858.4 404.74 L1859.1 404.37 L1859.8 403.76 L1860.5 404.85 L1861.2 405.72 L1861.9 404.36 L1862.6 405.05 L1863.3 405.34 L1864 404.29 L1864.7 404.69 L1865.4 405.1 L1866.1 405.25 L1866.8 404.47 L1867.5 405.15 L1868.2 404.95 L1868.9 405.39 L1869.6 404.06 L1870.3 404.48 L1871 404.38 L1871.7 404.33 L1872.4 404.71 L1873.1 403.91 L1873.8 405.5 L1874.5 403.64 L1875.2 404.35 L1875.9 404.47 L1876.5 404.53" fill="none" stroke="#000" stroke-width="9.3" stroke-linejoin="round" stroke-linecap="butt"/>
<!-- peak markers -->
<g id="markers"><text id="m1" transform="matrix(1.0716 0 0 1.0004 328.43 112.79)" font-size="64.7">O</text><text id="m2" transform="matrix(0.9912 0 0 0.9997 335.8 166.1)" font-size="68" stroke="#fefefe" stroke-width="1.2">◊</text><text id="m3" transform="matrix(1.2374 0 0 1.0007 437.5 353.13)" font-size="55.6" stroke="#fefefe" stroke-width="0.6">∇</text><text id="m4" transform="matrix(1.0473 0 0 0.9997 485.73 355.77)" font-size="66.2">O</text><text id="m5" transform="matrix(1.2472 0 0 1.0 611.23 260.1)" font-size="57.6" stroke="#fefefe" stroke-width="0.6">∇</text><text id="m6" transform="matrix(1.0406 0 0 1.0 627.5 311.9)" font-size="64" stroke="#fefefe" stroke-width="1.2">◊</text><text id="m7" transform="matrix(1.0851 0 0 1.0001 976.69 369.28)" font-size="65.3">O</text><text id="m8" transform="matrix(1.2811 0 0 1.0002 1191.74 100.26)" font-size="60.2" stroke="#fefefe" stroke-width="0.6">∇</text><text id="m9" transform="matrix(1.0292 0 0 0.9993 1213.8 154.7)" font-size="68.6" stroke="#fefefe" stroke-width="1.2">◊</text><text id="m10" transform="matrix(1.0865 0 0 0.9997 1304.55 366.87)" font-size="66.2">O</text><text id="m11" transform="matrix(1.3238 0 0 0.9993 1584.65 331.12)" font-size="56.2" stroke="#fefefe" stroke-width="0.6">∇</text></g>
<!-- card labels -->
<g class="card"><text id="l1a" transform="matrix(1.0843 0 0 1.0001 157.1 478.95)" font-size="66.9" font-weight="bold">73-1749</text><text id="l1b" transform="matrix(1.9277 0 0 1.0003 392.25 480.65)" font-size="41.5" font-weight="bold">：</text><text id="l1c" transform="matrix(1.0838 0 0 0.9995 471.13 479.43)" font-size="68.4" font-weight="bold">SiC</text></g>
<g class="card"><text id="l2a" transform="matrix(1.0847 0 0 1.0003 177.94 762.26)" font-size="66.6" font-weight="bold">85-1326</text><text id="l2b" transform="matrix(1.862 0 0 1.0007 415.17 763.43)" font-size="40.1" font-weight="bold">：</text><text id="l2c" transform="matrix(1.1001 0 0 1.0003 490.97 762.26)" font-size="66.6" font-weight="bold">Cu</text></g>
<g class="card"><text id="l3a" transform="matrix(1.0866 0 0 1.0003 191.44 1087.26)" font-size="66.6" font-weight="bold">85-1327</text><text id="l3b" transform="matrix(1.862 0 0 1.0007 427.97 1088.43)" font-size="40.1" font-weight="bold">：</text><text id="l3c" transform="matrix(1.1159 0 0 1.0005 504.8 1087.8)" font-size="66.5" font-weight="bold">Al</text></g>
<!-- legend -->
<g class="legend"><text id="g1a" transform="matrix(0.9662 0 0 0.9996 1608.5 480.8)" font-size="71" stroke="#fefefe" stroke-width="1.2">◊</text><text id="g1b" transform="matrix(0.9449 0 0 1.0005 1659.91 477.52)" font-size="69.2" letter-spacing="8.3" stroke="#fefefe" stroke-width="1">SiC</text></g>
<g class="legend"><text id="g2a" transform="matrix(1.241 0 0 1.0003 1593.99 796.34)" font-size="61.5" stroke="#fefefe" stroke-width="0.6">∇</text><text id="g2b" transform="matrix(0.8204 0 0 0.9999 1693.23 796.42)" font-size="69.1" letter-spacing="8.29" stroke="#fefefe" stroke-width="1">Cu</text></g>
<g class="legend"><text id="g3a" transform="matrix(1.1089 0 0 1.0003 1603.15 1116.68)" font-size="65" stroke="#000" stroke-width="1.8">O</text><text id="g3b" transform="matrix(0.8784 0 0 1.0 1671.7 1116.5)" font-size="70.7" letter-spacing="8.48" stroke="#fefefe" stroke-width="1">Al</text></g>
<!-- axis -->
<g id="xticks"><text id="t40" transform="matrix(1.0835 0 0 1.0005 369.57 1351.44)" font-size="55.1" stroke="#fefefe" stroke-width="1">40</text><text id="t60" transform="matrix(1.0996 0 0 1.0005 861.31 1351.44)" font-size="55.1" stroke="#fefefe" stroke-width="1">60</text><text id="t80" transform="matrix(1.0996 0 0 1.0005 1352.71 1351.44)" font-size="55.1" stroke="#fefefe" stroke-width="1">80</text><text id="t100" transform="matrix(1.0858 0 0 1.0005 1831.43 1351.44)" font-size="55.1" stroke="#fefefe" stroke-width="1">100</text></g>
<text id="xt" transform="matrix(1.1131 0 0 0.9998 864.82 1441.1)" font-size="65.5" font-weight="bold">2θ/degree</text>
<g id="ytitle"><text id="y1" transform="matrix(0 -0.9998 1.0965 0 92.45 887.01)" font-size="64.4" font-weight="bold">intensity</text><text id="y2" transform="matrix(0 -1.0002 0.901 0 88.75 658.67)" font-size="68.7" stroke="#fefefe" stroke-width="0.9">（</text><text id="y3" transform="matrix(0 -1.0006 1.1184 0 93.79 582.89)" font-size="63.5" font-weight="bold">a.u.</text><text id="y4" transform="matrix(0 -1.0001 0.8538 0 89.92 479.68)" font-size="74.1" stroke="#fefefe" stroke-width="0.9">）</text></g>
</svg>
</body>
</html>
